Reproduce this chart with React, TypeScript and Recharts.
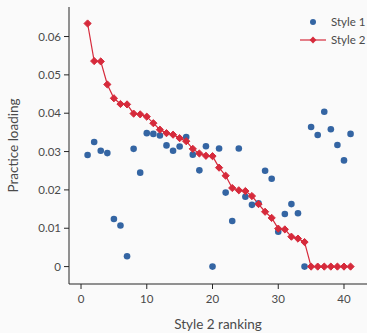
import React from "react";
import { ComposedChart, Line, Scatter, XAxis, YAxis } from "recharts";

// ranking on the x axis, loadings for each style
const ranks = Array.from({ length: 41 }, (_, i) => i + 1);

const style1 = [
  0.0291, 0.0325, 0.0302, 0.0296, 0.0124, 0.0107, 0.0027, 0.0307, 0.0245, 0.0348,
  0.0346, 0.0342, 0.0316, 0.0302, 0.0313, 0.0338, 0.0292, 0.0251, 0.0314, 0,
  0.0308, 0.0193, 0.0119, 0.0308, 0.0182, 0.0161, 0.0165, 0.025, 0.0229, 0.0091,
  0.0137, 0.0163, 0.0139, 0, 0.0364, 0.0343, 0.0404, 0.0358, 0.0317, 0.0277,
  0.0346
];

const style2 = [
  0.0634, 0.0536, 0.0535, 0.0475, 0.0439, 0.0424, 0.0423, 0.0399, 0.0397, 0.0391,
  0.0374, 0.0357, 0.0348, 0.0344, 0.0335, 0.0327, 0.0307, 0.0295, 0.0289, 0.0288,
  0.0258, 0.0237, 0.0205, 0.0199, 0.0197, 0.0184, 0.0163, 0.0143, 0.0127, 0.0099,
  0.0097, 0.0078, 0.0073, 0.0064, 0, 0, 0, 0, 0, 0, 0
];

const xTicks = [0, 10, 20, 30, 40];
const yTicks = [0, 0.01, 0.02, 0.03, 0.04, 0.05, 0.06];

const BLUE = "#3465a3";
const RED = "#d62a3b";
const FONT = "Lato, 'Open Sans', sans-serif";
const AXIS = "#262626";
const TEXT = "#4a4a4a";

const data = ranks.map((r, i) => ({ rank: r, style1: style1[i], style2: style2[i] }));

function Diamond(props: any) {
  const { cx, cy } = props;
  if (cx == null || cy == null) return null;
  const s = 3.6;
  return (
    <polygon
      points={`${cx},${cy - s} ${cx + s},${cy} ${cx},${cy + s} ${cx - s},${cy}`}
      fill={RED}
      stroke={RED}
      strokeWidth={1}
    />
  );
}

function Dot(props: any) {
  const { cx, cy } = props;
  return <circle cx={cx} cy={cy} r={3.3} fill={BLUE} />;
}

function YTitle(props: any) {
  const { viewBox } = props;
  const cy = viewBox.y + viewBox.height / 2;
  return (
    <text
      x={13}
      y={cy}
      transform={`rotate(-90, 13, ${cy})`}
      textAnchor="middle"
      dominantBaseline="central"
      fill={TEXT}
      fontSize={13.5}
      fontFamily={FONT}
    >
      Practice loading
    </text>
  );
}

function LegendBox() {
  return (
    <svg
      width={71}
      height={40}
      style={{ position: "absolute", left: 296, top: 12, fontFamily: FONT }}
    >
      <circle cx={17} cy={10} r={3} fill={BLUE} />
      <text x={35} y={14} fontSize={11.5} fill={TEXT}>Style 1</text>
      <line x1={4} y1={28} x2={30} y2={28} stroke={RED} strokeWidth={1.2} />
      <polygon points="17,24.6 20.4,28 17,31.4 13.6,28" fill={RED} />
      <text x={35} y={32} fontSize={11.5} fill={TEXT}>Style 2</text>
    </svg>
  );
}

export default function App() {
  return (
    <div style={{ position: "absolute", left: 0, top: 0, width: 367, height: 333, background: "#fafafa" }}>
      <ComposedChart
        width={367}
        height={333}
        data={data}
        margin={{ top: 7, right: 0, left: 0, bottom: 0 }}
      >
        <XAxis
          dataKey="rank"
          type="number"
          domain={[-1.83, 43.5]}
          ticks={xTicks}
          allowDataOverflow
          height={49}
          tickSize={5}
          tickMargin={6}
          stroke={AXIS}
          tick={{ fill: TEXT, fontSize: 11.5, fontFamily: FONT }}
          label={{
            value: "Style 2 ranking",
            position: "insideBottom",
            offset: 4,
            fill: TEXT,
            fontSize: 13.5,
            fontFamily: FONT
          }}
        />
        <YAxis
          type="number"
          domain={[-0.00454, 0.0677]}
          ticks={yTicks}
          allowDataOverflow
          width={69}
          tickSize={5}
          tickMargin={3}
          stroke={AXIS}
          tickFormatter={(v: number) => (v === 0 ? "0" : v.toFixed(2))}
          tick={{ fill: TEXT, fontSize: 11.5, fontFamily: FONT }}
          label={<YTitle />}
        />
        <Scatter
          name="Style 1"
          dataKey="style1"
          fill={BLUE}
          shape={<Dot />}
          isAnimationActive={false}
        />
        <Line
          name="Style 2"
          dataKey="style2"
          type="linear"
          stroke={RED}
          strokeWidth={1.2}
          dot={<Diamond />}
          activeDot={false}
          isAnimationActive={false}
        />
      </ComposedChart>
      <LegendBox />
    </div>
  );
}
